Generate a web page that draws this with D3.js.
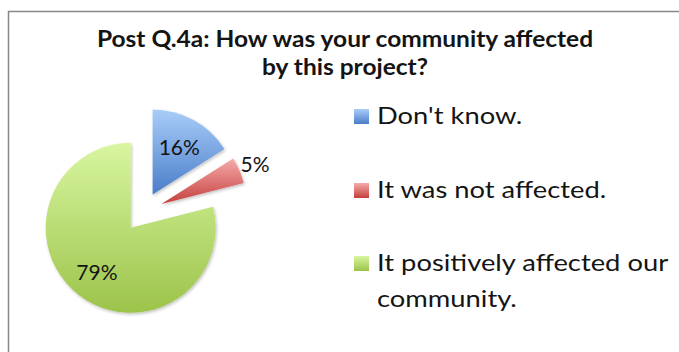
<!DOCTYPE html>
<html>
<head>
<meta charset="utf-8">
<script src="https://cdn.jsdelivr.net/npm/d3@7"></script>
<style>
  html, body { margin: 0; padding: 0; background: #fff; }
  svg { display: block; }
  text { font-family: Lato, "Open Sans", "Liberation Sans", sans-serif; fill: #141414; }
</style>
</head>
<body>
<svg id="chart" width="679" height="352"></svg>
<script>
// Survey responses
const categories = ["Don't know.", "It was not affected.", "It positively affected our community."];
const values = [16, 5, 79];
const valueLabels = ["16%", "5%", "79%"];
const titleLines = ["Post Q.4a: How was your community affected", "by this project?"];

// Slice fills: light top, darker bottom
const colorTop = ["#a9cdf9", "#f6abaa", "#d8f6a0"];
const colorBottom = ["#4a7dc8", "#c3403d", "#9cc34a"];

const W = 679, H = 352;
const svg = d3.select("#chart");
const defs = svg.append("defs");

categories.forEach((c, i) => {
  ["grad", "lgrad"].forEach(prefix => {
    const g = defs.append("linearGradient")
      .attr("id", prefix + i)
      .attr("x1", 0).attr("y1", 0).attr("x2", 0).attr("y2", 1);
    g.append("stop").attr("offset", "0%").attr("stop-color", colorTop[i]);
    g.append("stop").attr("offset", "100%").attr("stop-color", colorBottom[i]);
  });
});

const shadow = defs.append("filter").attr("id", "shadow")
  .attr("x", "-20%").attr("y", "-20%").attr("width", "140%").attr("height", "140%");
shadow.append("feDropShadow")
  .attr("dx", 1).attr("dy", 1.5).attr("stdDeviation", 1.5)
  .attr("flood-color", "#000").attr("flood-opacity", 0.25);

// Chart frame
svg.append("rect")
  .attr("x", 8.5).attr("y", 11.5)
  .attr("width", W + 20).attr("height", H + 20)
  .attr("fill", "#fff")
  .attr("stroke", "#878787").attr("stroke-width", 1.5);

// Title (slightly widened lettering)
const titleStretch = 1.115;
svg.append("g").selectAll("text")
  .data(titleLines)
  .join("text")
  .attr("transform", (d, i) => `translate(345,${47 + i * 28}) scale(${titleStretch},1)`)
  .attr("text-anchor", "middle")
  .attr("font-size", 22)
  .attr("font-weight", "bold")
  .text(d => d);

// Exploded pie
const radius = 85;
const explode = 20;
const center = [143, 212];

const pie = d3.pie().sort(null).value(d => d);
const arcs = pie(values);
const arc = d3.arc().innerRadius(0).outerRadius(radius);

const pieG = svg.append("g").attr("transform", `translate(${center[0]},${center[1]})`);

const offset = (d, r) => {
  const a = (d.startAngle + d.endAngle) / 2;
  return [Math.sin(a) * r, -Math.cos(a) * r];
};

pieG.selectAll("path")
  .data(arcs)
  .join("path")
  .attr("transform", d => {
    const [dx, dy] = offset(d, explode);
    return `translate(${dx},${dy})`;
  })
  .attr("d", arc)
  .attr("fill", (d, i) => `url(#grad${i})`)
  .attr("filter", "url(#shadow)");

// Value labels: inside for large slices, outside for the small one
pieG.selectAll("text.val")
  .data(arcs)
  .join("text")
  .attr("class", "val")
  .attr("transform", d => {
    const [ex, ey] = offset(d, explode);
    const share = (d.endAngle - d.startAngle) / (2 * Math.PI);
    const lr = share < 0.1 ? radius * 1.2 : radius * 0.65;
    const [lx, ly] = offset(d, lr);
    return `translate(${ex + lx},${ey + ly})`;
  })
  .attr("text-anchor", "middle")
  .attr("dominant-baseline", "central")
  .attr("font-size", 21)
  .text((d, i) => valueLabels[i]);

// Legend
const legend = svg.append("g");
const rowY = [124, 198, 271];
const lineGap = 36;
const legendStretch = 1.19;
const maxTextWidth = 300;

categories.forEach((c, i) => {
  const row = legend.append("g");
  row.append("rect")
    .attr("x", 354).attr("y", rowY[i] - 15)
    .attr("width", 15).attr("height", 15)
    .attr("fill", `url(#lgrad${i})`);
  const t = row.append("text")
    .attr("transform", `translate(377,${rowY[i]}) scale(${legendStretch},1)`)
    .attr("font-size", 23);
  // word wrap
  const words = c.split(" ");
  let line = [];
  let tspan = t.append("tspan").attr("x", 0).attr("y", 0);
  let lineNo = 0;
  words.forEach(w => {
    line.push(w);
    tspan.text(line.join(" "));
    if (tspan.node().getComputedTextLength() * legendStretch > maxTextWidth && line.length > 1) {
      line.pop();
      tspan.text(line.join(" "));
      line = [w];
      lineNo++;
      tspan = t.append("tspan").attr("x", 0).attr("y", lineNo * lineGap).text(w);
    }
  });
});
</script>
</body>
</html>
